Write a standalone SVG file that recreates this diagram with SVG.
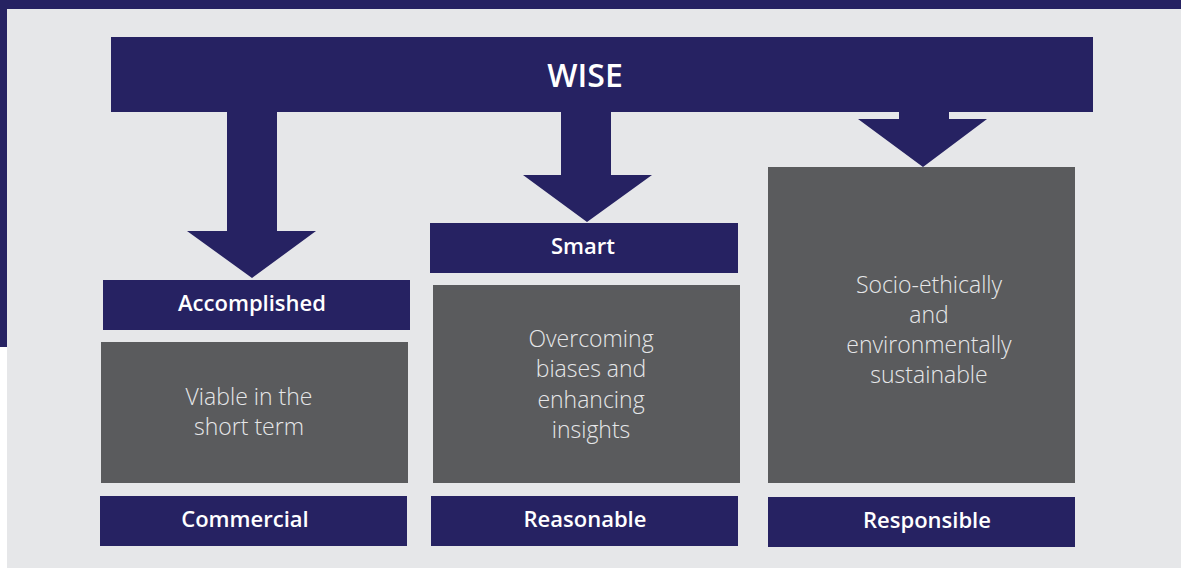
<svg xmlns="http://www.w3.org/2000/svg" width="1181" height="568" viewBox="0 0 1181 568">
<style>
.navy{fill:#262262}
.gray{fill:#5a5b5d}
.lbl{font-family:"Open Sans","Noto Sans",sans-serif;font-weight:600;fill:#ffffff;text-anchor:middle;font-size:22px}
.big{font-size:32px}
.desc{font-family:"Open Sans","Noto Sans",sans-serif;font-weight:300;fill:#e6e7e9;text-anchor:middle;font-size:23px}
</style>
<rect x="0" y="0" width="1181" height="568" fill="#ffffff"/>
<rect x="7" y="9" width="1174" height="559" fill="#e6e7e9"/>
<rect x="0" y="0" width="1181" height="9" class="navy"/>
<rect x="0" y="0" width="7" height="347" class="navy"/>
<g id="connectors">
<polygon class="navy" points="227,110 277,110 277,231 316,231 252,278 187,231 227,231"/>
<polygon class="navy" points="561,110 611,110 611,175 652,175 587,222 523,175 561,175"/>
<polygon class="navy" points="899,110 949,110 949,119 987,119 923,167 858,119 899,119"/>
</g>
<g id="wise">
<rect x="111" y="37" width="982" height="75" class="navy"/>
<text x="585" y="87" class="lbl big">WISE</text>
</g>
<g id="accomplished">
<rect x="103" y="280" width="307" height="50" class="navy"/>
<text x="252" y="311" class="lbl">Accomplished</text>
</g>
<g id="smart">
<rect x="430" y="223" width="308" height="50" class="navy"/>
<text x="583" y="254" class="lbl">Smart</text>
</g>
<g id="viable">
<rect x="101" y="342" width="307" height="141" class="gray"/>
<text class="desc"><tspan x="249" y="405">Viable in the</tspan><tspan x="249" y="435">short term</tspan></text>
</g>
<g id="overcoming">
<rect x="433" y="285" width="307" height="198" class="gray"/>
<text class="desc"><tspan x="591" y="347">Overcoming</tspan><tspan x="591" y="377">biases and</tspan><tspan x="591" y="408">enhancing</tspan><tspan x="591" y="438">insights</tspan></text>
</g>
<g id="socio">
<rect x="768" y="167" width="307" height="316" class="gray"/>
<text class="desc"><tspan x="929" y="293">Socio-ethically</tspan><tspan x="929" y="323">and</tspan><tspan x="929" y="353">environmentally</tspan><tspan x="929" y="383">sustainable</tspan></text>
</g>
<g id="commercial">
<rect x="100" y="496" width="307" height="50" class="navy"/>
<text x="245" y="527" class="lbl">Commercial</text>
</g>
<g id="reasonable">
<rect x="431" y="496" width="307" height="50" class="navy"/>
<text x="585" y="527" class="lbl">Reasonable</text>
</g>
<g id="responsible">
<rect x="768" y="497" width="307" height="50" class="navy"/>
<text x="927" y="528" class="lbl">Responsible</text>
</g>
</svg>
